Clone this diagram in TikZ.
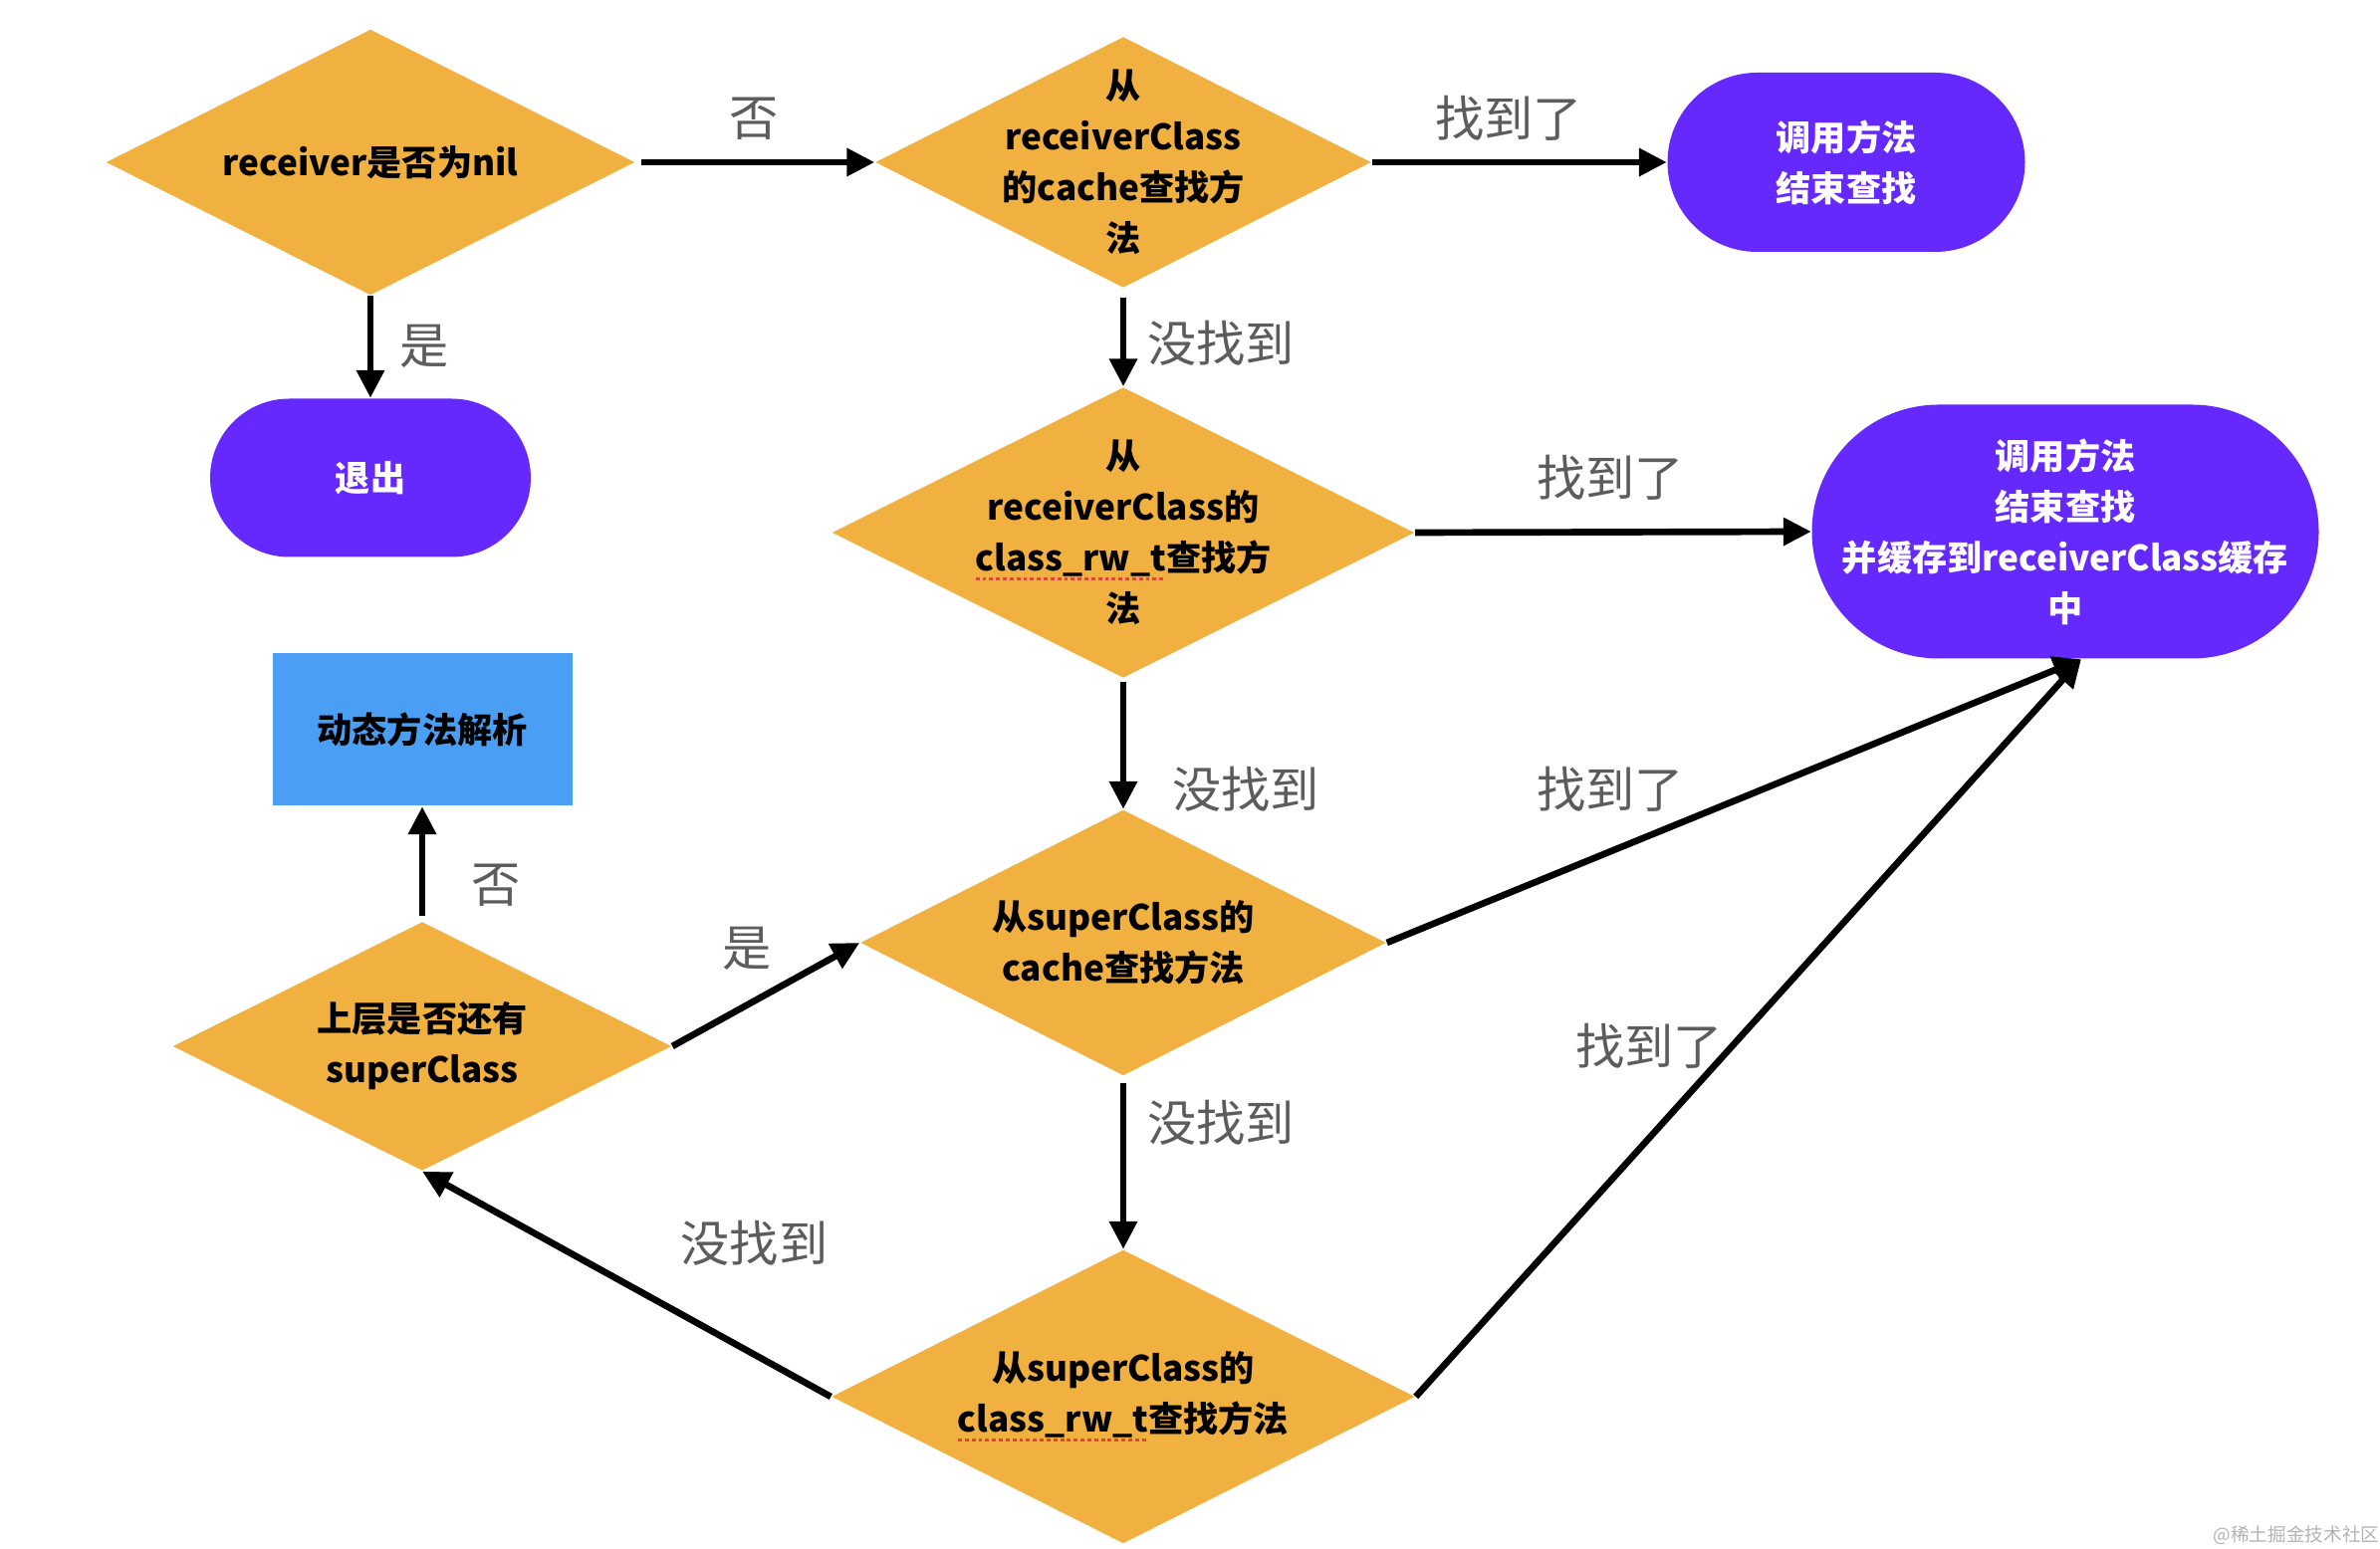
\documentclass[tikz,border=0pt]{standalone}
\usepackage{fontspec}
\setmainfont{Noto Sans CJK SC}
\usetikzlibrary{shapes.geometric,arrows.meta}

\definecolor{dorange}{HTML}{F0B140}
\definecolor{tpurple}{HTML}{6629FD}
\definecolor{pblue}{HTML}{4A9FF5}
\definecolor{lblgray}{HTML}{5C5C5C}
\definecolor{errred}{HTML}{E0463A}

% red dotted spell-check line under a word
\newsavebox\errbox
\newcommand\spellerr[1]{\sbox\errbox{#1}\rlap{\raisebox{-2.6pt}{\textcolor{errred}{\xleaders\hbox{\rule{1.1pt}{0.9pt}\hspace{0.8pt}}\hskip\wd\errbox}}}\usebox\errbox}

\tikzset{
  dtext/.style={align=center, font=\bfseries\fontsize{10}{14.5}\selectfont, text=black, inner sep=0pt},
  dia/.style 2 args={diamond, fill=dorange, inner sep=0pt, minimum width=#1cm, minimum height=#2cm},
  term/.style 2 args={rectangle, rounded corners=#2*0.5cm, fill=tpurple, text=white, align=center,
    font=\bfseries\fontsize{10}{14.5}\selectfont, minimum width=#1cm, minimum height=#2cm},
  proc/.style={rectangle, fill=pblue, text=black, font=\bfseries\fontsize{10}{14.5}\selectfont,
    minimum width=3.01cm, minimum height=1.53cm},
  lbl/.style={text=lblgray, font=\fontsize{14}{16}\selectfont, inner sep=0pt},
  flow/.style={-{Triangle[length=2.8mm,width=2.7mm]}, line width=1.9pt},
}

\begin{document}
\begin{tikzpicture}
  \useasboundingbox (0,0) rectangle (23.9,15.56);

  % decisions
  \node[dia={5.31}{2.67}, label={[dtext]center:receiver是否为nil}] (nilchk) at (3.72,13.93) {};
  \node[dia={4.98}{2.52}, label={[dtext]center:从\\receiverClass\\的cache查找方\\法}] (rcache) at (11.28,13.93) {};
  \node[dia={5.85}{2.92}, label={[dtext]center:从\\receiverClass的\\\spellerr{class\_rw\_t}查找方\\法}] (rrwt) at (11.28,10.21) {};
  \node[dia={5.28}{2.67}, label={[dtext]center:从superClass的\\cache查找方法}] (scache) at (11.28,6.09) {};
  \node[dia={5.01}{2.50}, label={[dtext]center:上层是否还有\\superClass}] (hassup) at (4.24,5.05) {};
  \node[dia={5.86}{2.95}, label={[dtext]center:从superClass的\\\spellerr{class\_rw\_t}查找方法}] (srwt) at (11.28,1.53) {};

  % ends
  \node[term={3.22}{1.59}] (quit) at (3.72,10.76) {退出};
  \node[term={3.59}{1.80}] (call1) at (18.54,13.93) {调用方法\\结束查找};
  \node[term={5.09}{2.55}] (call2) at (20.74,10.22) {调用方法\\结束查找\\并缓存到receiverClass缓存\\中};
  \node[proc] (resolve) at (4.24,8.23) {动态方法解析};

  \coordinate (hit) at ([xshift=1.6mm]call2.south);

  % connectors
  \draw[flow, shorten <=0.06cm] (nilchk.east) -- (rcache.west);
  \draw[flow] (nilchk.south) -- (quit.north);
  \draw[flow] (rcache.east) -- (call1.west);
  \draw[flow, shorten <=0.09cm] (rcache.south) -- (rrwt.north);
  \draw[flow] (rrwt.east) -- (call2.west);
  \draw[flow, shorten <=0.03cm] (rrwt.south) -- (scache.north);
  \draw[flow] (scache.east) -- (hit);
  \draw[flow, shorten <=0.07cm] (scache.south) -- (srwt.north);
  \draw[flow] (srwt.east) -- (hit);
  \draw[flow] (srwt.west) -- (hassup.south);
  \draw[flow] (hassup.east) -- (scache.west);
  \draw[flow, shorten <=0.05cm] (hassup.north) -- (resolve.south);

  % edge labels
  \node[lbl] (no1) at (7.575,14.37) {否};
  \node[lbl] (yes1) at (4.26,12.08) {是};
  \node[lbl] (found1) at (15.15,14.37) {找到了};
  \node[lbl] (miss1) at (12.26,12.11) {没找到};
  \node[lbl] (found2) at (16.17,10.76) {找到了};
  \node[lbl] (miss2) at (12.51,7.63) {没找到};
  \node[lbl] (found3) at (16.17,7.63) {找到了};
  \node[lbl] (no2) at (4.98,6.67) {否};
  \node[lbl] (yes2) at (7.50,6.03) {是};
  \node[lbl] (found4) at (16.56,5.05) {找到了};
  \node[lbl] (miss3) at (12.26,4.28) {没找到};
  \node[lbl] (miss4) at (7.575,3.07) {没找到};

  \node[text=black!30, font=\fontsize{5.3}{6}\selectfont, inner sep=0pt] (mark) at (23.06,0.14) {@稀土掘金技术社区};
\end{tikzpicture}
\end{document}
